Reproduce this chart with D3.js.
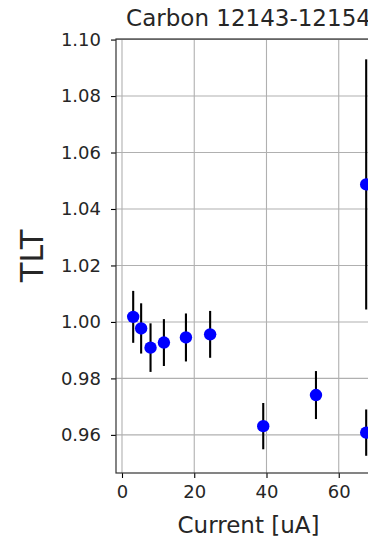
<!DOCTYPE html>
<html>
<head>
<meta charset="utf-8">
<script src="https://cdn.jsdelivr.net/npm/d3@7"></script>
<style>
  body { margin: 0; background: #fff; }
  svg { display: block; overflow: hidden; }
</style>
</head>
<body>
<script>
// values
const currents = [3.1, 5.3, 7.9, 11.6, 17.7, 24.4, 39.1, 53.7, 67.6, 67.6];
const tlt      = [1.0018, 0.9977, 0.9909, 0.9927, 0.9945, 0.9956, 0.9631, 0.9741, 0.9608, 1.0487];
const tltErr   = [0.0092, 0.0089, 0.0086, 0.0083, 0.0085, 0.0083, 0.0082, 0.0085, 0.0082, 0.0443];
const xTicks = [0, 20, 40, 60];
const yTicks = [0.96, 0.98, 1.00, 1.02, 1.04, 1.06, 1.08, 1.10];

const W = 368, H = 542;
const padL = 116, padR = 381, padT = 39, padB = 473;
const font = "DejaVu Sans, sans-serif";

const svg = d3.select("body").append("svg")
    .attr("width", W)
    .attr("height", H);

const x = d3.scaleLinear().domain([-1.66, 71.7]).range([padL, padR]);
const y = d3.scaleLinear().domain([0.9465, 1.1002]).range([padB, padT]);

// grid
svg.append("g").selectAll("line").data(xTicks).join("line")
    .attr("x1", d => x(d)).attr("x2", d => x(d))
    .attr("y1", padT).attr("y2", padB)
    .attr("stroke", "#b0b0b0").attr("stroke-width", 1.1);
svg.append("g").selectAll("line").data(yTicks).join("line")
    .attr("x1", padL).attr("x2", padR)
    .attr("y1", d => y(d)).attr("y2", d => y(d))
    .attr("stroke", "#b0b0b0").attr("stroke-width", 1.1);

// error bars
const pts = currents.map((c, i) => ({ c: c, v: tlt[i], e: tltErr[i] }));
svg.append("g").selectAll("line").data(pts).join("line")
    .attr("x1", d => x(d.c)).attr("x2", d => x(d.c))
    .attr("y1", d => y(d.v - d.e)).attr("y2", d => y(d.v + d.e))
    .attr("stroke", "#000").attr("stroke-width", 2.1);

// markers
svg.append("g").selectAll("circle").data(pts).join("circle")
    .attr("cx", d => x(d.c)).attr("cy", d => y(d.v))
    .attr("r", 6.2)
    .attr("fill", "#0000ff");

// axes
const xAxis = d3.axisBottom(x).tickValues(xTicks).tickSize(5).tickPadding(7).tickFormat(d3.format("d"));
const yAxis = d3.axisLeft(y).tickValues(yTicks).tickSize(5).tickPadding(10).tickFormat(d3.format(".2f"));

const gx = svg.append("g").attr("transform", `translate(0,${padB})`).call(xAxis);
const gy = svg.append("g").attr("transform", `translate(${padL},0)`).call(yAxis);
[gx, gy].forEach(g => {
    g.select(".domain").remove();
    g.selectAll(".tick line").attr("stroke", "#000").attr("stroke-width", 1.1);
    g.selectAll(".tick text").attr("font-family", font).attr("font-size", 18).attr("fill", "#262626");
});

// spines
svg.append("rect")
    .attr("x", padL).attr("y", padT)
    .attr("width", padR - padL).attr("height", padB - padT)
    .attr("fill", "none").attr("stroke", "#333").attr("stroke-width", 1.2);

// labels
svg.append("text")
    .attr("x", (padL + padR) / 2).attr("y", 26)
    .attr("text-anchor", "middle")
    .attr("font-family", font).attr("font-size", 23).attr("fill", "#262626")
    .text("Carbon 12143-12154");

svg.append("text")
    .attr("x", (padL + padR) / 2).attr("y", 533)
    .attr("text-anchor", "middle")
    .attr("font-family", font).attr("font-size", 23).attr("fill", "#262626")
    .text("Current [uA]");

svg.append("text")
    .attr("transform", `translate(43,${(padT + padB) / 2}) rotate(-90)`)
    .attr("text-anchor", "middle")
    .attr("font-family", font).attr("font-size", 32).attr("fill", "#262626")
    .text("TLT");
</script>
</body>
</html>
